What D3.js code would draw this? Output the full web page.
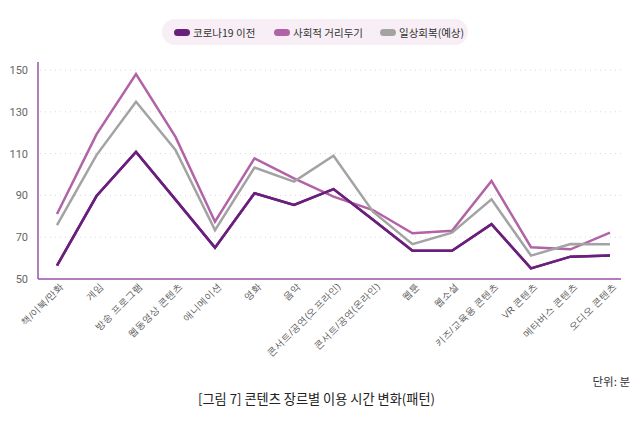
<!DOCTYPE html>
<html><head><meta charset="utf-8">
<script src="https://cdn.jsdelivr.net/npm/d3@7"></script>
<style>body{margin:0;background:#fff;font-family:"Noto Sans CJK KR","Noto Sans",sans-serif;}</style>
</head><body><svg id="c" width="640" height="437"></svg>
<script>
const categories = ["책/이북/만화","게임","방송 프로그램","웹동영상 콘텐츠","애니메이션","영화","음악","콘서트/공연(오프라인)","콘서트/공연(온라인)","웹툰","웹소설","키즈/교육용 콘텐츠","VR 콘텐츠","메타버스 콘텐츠","오디오 콘텐츠"];
const seriesNames = ["코로나19 이전","사회적 거리두기","일상회복(예상)"];
const beforeCovid = [56.4,89.7,110.8,88,65,91,85.4,93,78.3,63.5,63.5,76.2,55.1,60.7,61.2];
const distancing = [81.1,119.2,148,118,77.4,107.7,98.2,89.4,83,71.9,73.1,96.9,65.2,64.2,72.2];
const recovery = [75.8,109.3,134.8,111.7,73.4,103.3,96.6,109,82.2,66.7,72.2,88.1,61.2,66.7,66.6];
const yTicks = [50,70,90,110,130,150];
const colors = ["#6b1f7c","#b163a6","#a3a3a3"];

const svg = d3.select("#c");
const x = d3.scalePoint().domain(categories).range([57,610]);
const y = d3.scaleLinear().domain([50,150]).range([279,70]);

// grid
svg.append("g").selectAll("line").data(yTicks.slice(1)).join("line")
  .attr("x1",40).attr("x2",621).attr("y1",d=>y(d)).attr("y2",d=>y(d))
  .attr("stroke","#d9d9d9").attr("stroke-width",1).attr("stroke-dasharray","1,4");

// y labels
const ya = svg.append("g").attr("transform","translate(38,0)")
  .call(d3.axisLeft(y).tickValues(yTicks).tickSize(0).tickPadding(10));
ya.select(".domain").remove();
ya.selectAll("text").attr("font-size",11).attr("fill","#666").attr("font-family","Roboto,'Noto Sans CJK KR',sans-serif");

// axes lines
svg.append("line").attr("x1",38).attr("x2",38).attr("y1",62).attr("y2",279).attr("stroke","#9b50a8").attr("stroke-width",1.5);
svg.append("line").attr("x1",38).attr("x2",621).attr("y1",279).attr("y2",279).attr("stroke","#9b50a8").attr("stroke-width",1.5);

// x labels
const xa = svg.append("g").attr("transform","translate(0,279)")
  .call(d3.axisBottom(x).tickSize(0).tickPadding(0));
xa.select(".domain").remove();
xa.selectAll("text").attr("font-size",9.5).attr("fill","#555")
  .attr("text-anchor","end").attr("dy",0)
  .attr("transform","translate(7,8) rotate(-45)");

// lines
const line = d3.line().x((d,i)=>x(categories[i])).y(d=>y(d));
[beforeCovid,distancing,recovery].forEach((s,k)=>{
  svg.append("path").datum(s).attr("d",line).attr("fill","none")
    .attr("stroke",colors[k]).attr("stroke-width",2.5).attr("stroke-linejoin","miter");
});
svg.append("path").datum(beforeCovid).attr("d",line).attr("fill","none").attr("stroke",colors[0]).attr("stroke-width",2.5);

// legend
const lg = svg.append("g");
lg.append("rect").attr("x",162).attr("y",19).attr("width",306).attr("height",26).attr("rx",13).attr("fill","#f8eef5");
const lx = [174,274,380];
seriesNames.forEach((n,i)=>{
  lg.append("rect").attr("x",lx[i]).attr("y",29).attr("width",16).attr("height",7).attr("rx",3.5).attr("fill",colors[i]);
  lg.append("text").attr("x",lx[i]+19).attr("y",36.5).attr("font-size",10.5).attr("fill","#333").text(n);
});

// unit & caption
svg.append("text").attr("x",630).attr("y",386).attr("text-anchor","end").attr("font-size",11.5).attr("fill","#333").text("단위:  분");
svg.append("text").attr("x",198).attr("y",404).attr("font-size",13.2).attr("fill","#222").text("[그림 7]  콘텐츠 장르별 이용 시간 변화(패턴)");
</script></body></html>
